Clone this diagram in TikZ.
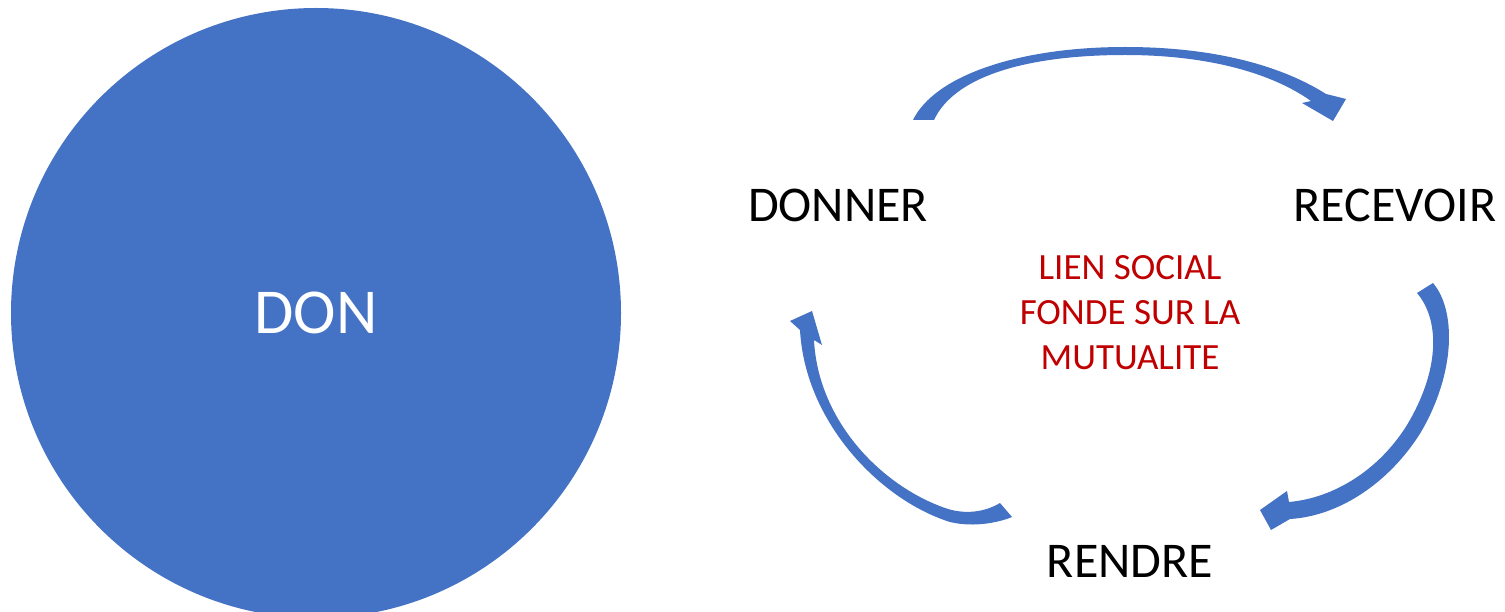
\documentclass[tikz,border=0pt]{standalone}
\usepackage{xcolor}
\usepackage{fontspec}
\setmainfont{Carlito}
\usepackage{tikz}
\usetikzlibrary{positioning}

\begin{document}
\begin{tikzpicture}[x=1pt, y=-1pt]
        \definecolor{donblue}{HTML}{4472C4}
        \definecolor{lienred}{HTML}{C00000}
        \useasboundingbox (0,0) rectangle (1505,612);
        \tikzset{
            verb/.style={inner sep=0pt, font=\fontsize{50}{60}\selectfont},
            band/.style={fill=donblue, draw=none}
        }

        \node[circle, fill=donblue, minimum size=610pt, inner sep=0pt] (don) at (316,313) {};
        \node[text=white, inner sep=0pt, font=\fontsize{64}{70}\selectfont] (donlabel) at (don.center) {DON};

        \begin{scope}[every node/.style={verb}]
            \node (donner) at (838,205) {DONNER};
            \node (recevoir) at (1395,205) {RECEVOIR};
            \node (rendre) at (1130,561) {RENDRE};
        \end{scope}
        \node[text=lienred, inner sep=0pt, align=center, font=\fontsize{37}{45}\selectfont] (lien) at (1130,313) {LIEN SOCIAL\\FONDE SUR LA\\MUTUALITE};

        % donner -> recevoir
        \coordinate (top_tail) at (913,120);
        \coordinate (top_tip) at (1333,121);
        \fill[band] (top_tail) .. controls (935,75) and (1020,47) .. (1125,47)
            .. controls (1220,47) and (1285,68) .. (1326,94)
            -- (1346,99) -- (top_tip) -- (1302,103) -- (1311,101)
            .. controls (1276,76) and (1215,55) .. (1125,55)
            .. controls (1030,55) and (955,75) .. (934,120) -- cycle;

        % recevoir -> rendre
        \coordinate (right_tail) at (1433,283);
        \coordinate (right_tip) at (1260,510);
        \fill[band] (right_tail) .. controls (1456,310) and (1456,372) .. (1421,432)
            .. controls (1390,482) and (1340,516) .. (1290,519)
            -- (1271,530) -- (right_tip) -- (1287,491) -- (1289,502)
            .. controls (1334,498) and (1379,470) .. (1407,425)
            .. controls (1440,370) and (1440,320) .. (1417,293) -- cycle;

        % rendre -> donner
        \coordinate (left_tail) at (1012,517);
        \coordinate (left_tip) at (812,311);
        \fill[band] (800,330) .. controls (805,422) and (880,500) .. (950,522)
            .. controls (975,528) and (1000,522) .. (left_tail)
            -- (1000,503)
            .. controls (985,512) and (965,515) .. (945,508)
            .. controls (880,485) and (818,420) .. (814,340)
            -- (822,345) -- (left_tip) -- (790,321) -- cycle;
    \end{tikzpicture}
\end{document}
